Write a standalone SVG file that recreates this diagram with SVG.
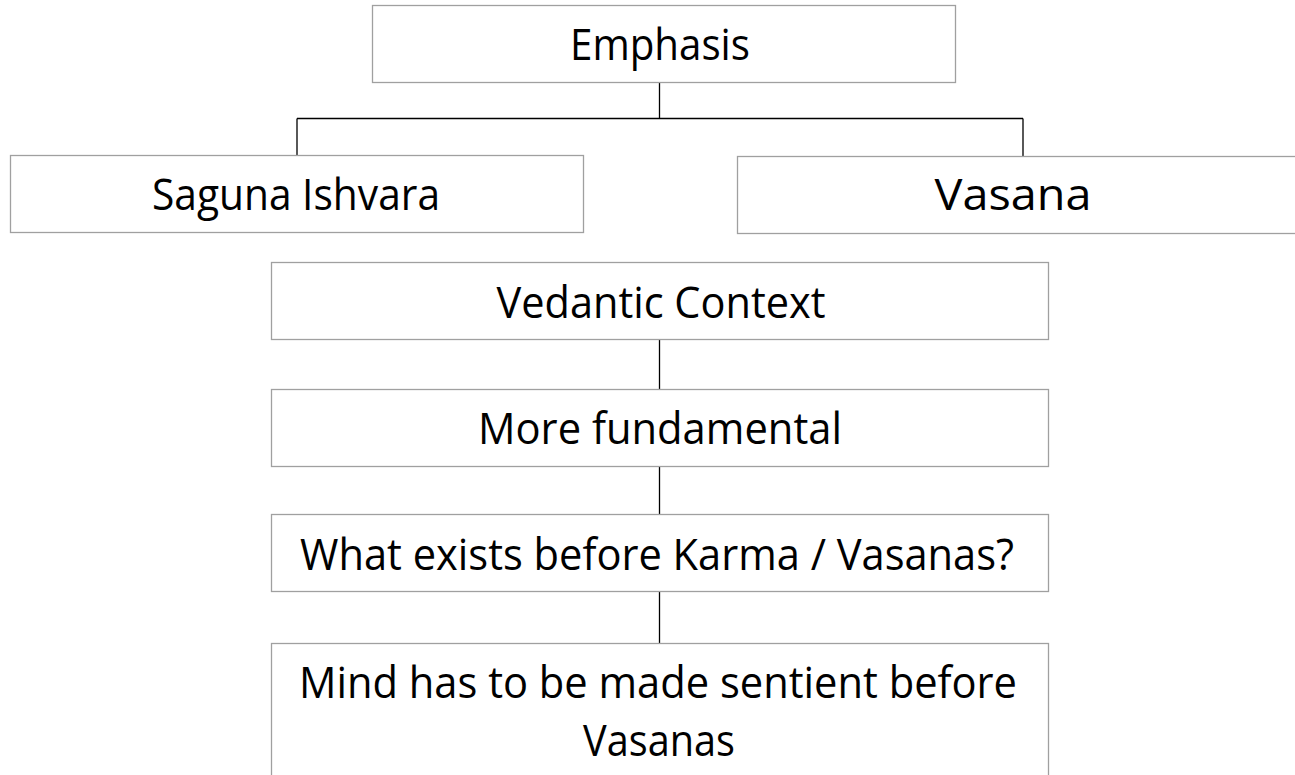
<svg xmlns="http://www.w3.org/2000/svg" width="1295" height="775" viewBox="0 0 1295 775">
  <style>
    .box { fill: #ffffff; stroke: #a0a0a0; stroke-width: 1.3; }
    .lbl { font-family: "Open Sans", "Liberation Sans", sans-serif; font-size: 43px; fill: #000000; text-anchor: middle; }
    .conn { fill: none; stroke: #000000; stroke-width: 1.3; }
  </style>
  <rect width="1295" height="775" fill="#ffffff"/>

  <!-- connectors -->
  <g id="connectors">
    <path class="conn" d="M659.5,82 V118.5 M297,118.5 H1023 M297,118.5 V155 M1023,118.5 V156"/>
    <path class="conn" d="M659.5,340 V389"/>
    <path class="conn" d="M659.5,466 V514"/>
    <path class="conn" d="M659.5,592 V643"/>
  </g>

  <g id="emphasis">
    <rect class="box" x="372.5" y="5.5" width="583" height="77"/>
    <text class="lbl" x="660" y="60" textLength="180" lengthAdjust="spacingAndGlyphs">Emphasis</text>
  </g>

  <g id="saguna-ishvara">
    <rect class="box" x="10.5" y="155.5" width="573" height="77"/>
    <text class="lbl" x="296" y="210" textLength="288" lengthAdjust="spacingAndGlyphs">Saguna Ishvara</text>
  </g>

  <g id="vasana">
    <rect class="box" x="737.5" y="156.5" width="570" height="77"/>
    <text class="lbl" x="1013" y="210" textLength="157" lengthAdjust="spacingAndGlyphs">Vasana</text>
  </g>

  <g id="vedantic-context">
    <rect class="box" x="271.5" y="262.5" width="777" height="77"/>
    <text class="lbl" x="661" y="318" textLength="329" lengthAdjust="spacingAndGlyphs">Vedantic Context</text>
  </g>

  <g id="more-fundamental">
    <rect class="box" x="271.5" y="389.5" width="777" height="77"/>
    <text class="lbl" x="660" y="444" textLength="364" lengthAdjust="spacingAndGlyphs">More fundamental</text>
  </g>

  <g id="what-exists">
    <rect class="box" x="271.5" y="514.5" width="777" height="77"/>
    <text class="lbl" x="657" y="570" textLength="714" lengthAdjust="spacingAndGlyphs">What exists before Karma / Vasanas?</text>
  </g>

  <g id="mind-sentient">
    <rect class="box" x="271.5" y="643.5" width="777" height="150"/>
    <text class="lbl" x="658" y="698" textLength="718" lengthAdjust="spacingAndGlyphs">Mind has to be made sentient before</text>
    <text class="lbl" x="659" y="756" textLength="152" lengthAdjust="spacingAndGlyphs">Vasanas</text>
  </g>
</svg>
